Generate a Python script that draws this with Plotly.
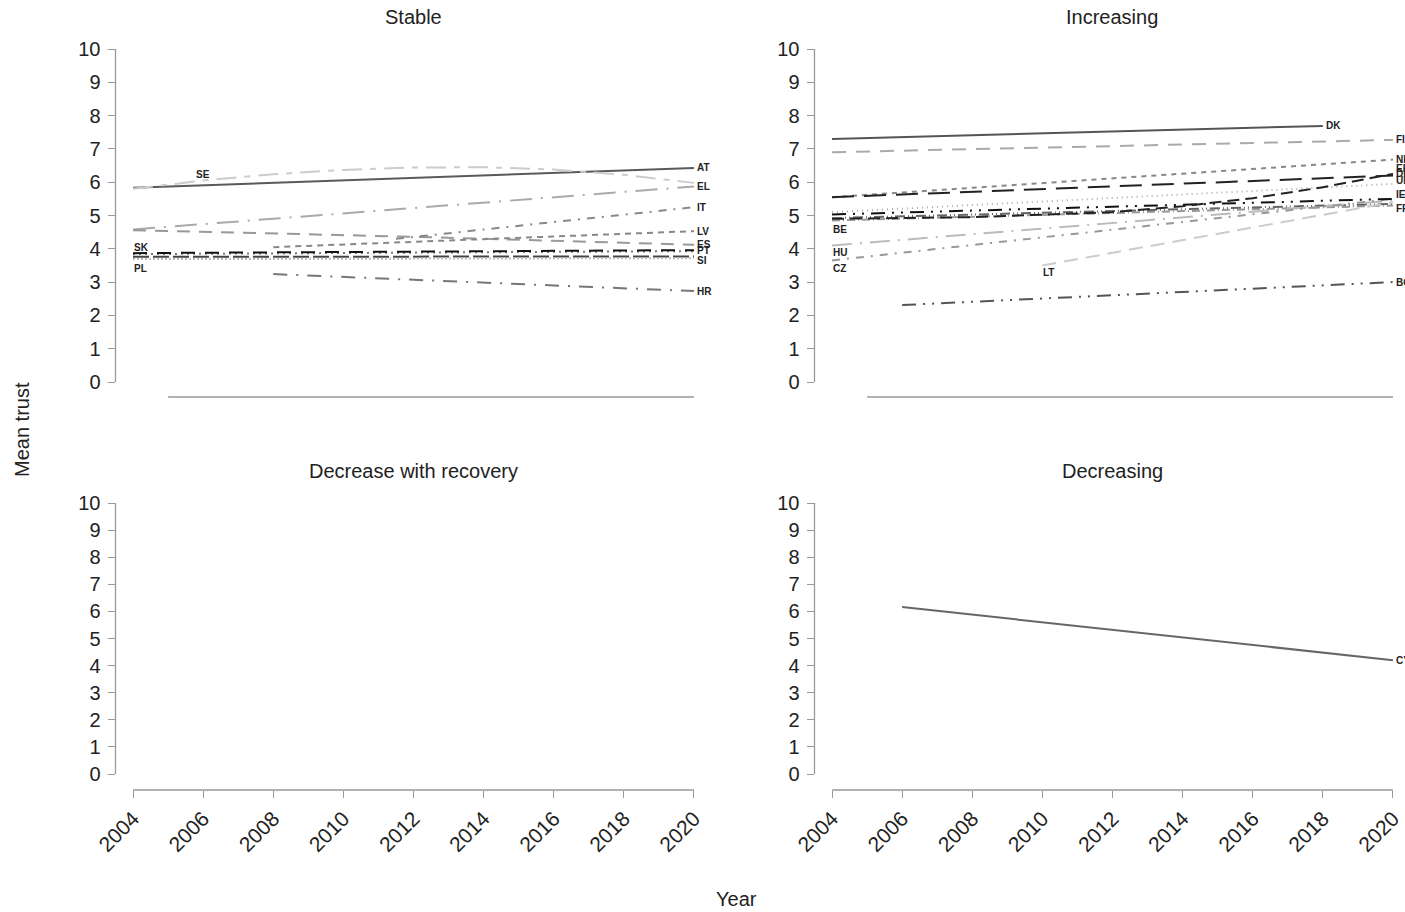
import plotly.graph_objects as go

# ---------------- data ----------------
panel_titles = ["Stable", "Increasing", "Decrease with recovery", "Decreasing"]
x_ticks = [2004, 2006, 2008, 2010, 2012, 2014, 2016, 2018, 2020]
y_ticks = [0, 1, 2, 3, 4, 5, 6, 7, 8, 9, 10]

# Stable
AT_years = [2004, 2020];             AT_vals = [5.83, 6.43]
SE_years = [2004, 2006, 2008, 2010, 2012, 2014, 2016, 2018, 2020]
SE_vals = [5.80, 6.05, 6.24, 6.37, 6.44, 6.45, 6.38, 6.22, 5.98]
EL_years = [2004, 2012, 2020];       EL_vals = [4.58, 5.22, 5.87]
ES_years = [2004, 2012, 2020];       ES_vals = [4.56, 4.36, 4.12]
IT_years = [2011.5, 2020];           IT_vals = [4.30, 5.25]
LV_years = [2008, 2020];             LV_vals = [4.05, 4.53]
SK_years = [2004, 2020];             SK_vals = [3.87, 3.96]
PT_years = [2004, 2020];             PT_vals = [3.84, 3.93]
SI_years = [2004, 2020];             SI_vals = [3.76, 3.77]
PL_years = [2004, 2020];             PL_vals = [3.69, 3.72]
HR_years = [2008, 2020];             HR_vals = [3.24, 2.73]

# Increasing
DK_years = [2004, 2018];             DK_vals = [7.30, 7.69]
FI_years = [2004, 2020];             FI_vals = [6.90, 7.27]
NL_years = [2004, 2020];             NL_vals = [5.55, 6.68]
EE_years = [2004, 2020];             EE_vals = [5.55, 6.20]
DE_years = [2004, 2008, 2012, 2014, 2016, 2018, 2020]
DE_vals = [4.90, 4.95, 5.10, 5.28, 5.52, 5.85, 6.25]
UK_years = [2004, 2020];             UK_vals = [5.10, 5.95]
IE_years = [2004, 2020];             IE_vals = [5.03, 5.50]
FR_years = [2004, 2020];             FR_vals = [4.85, 5.30]
BE_years = [2004, 2020];             BE_vals = [4.92, 5.35]
HU_years = [2004, 2020];             HU_vals = [4.10, 5.45]
CZ_years = [2004, 2020];             CZ_vals = [3.65, 5.50]
LT_years = [2010, 2020];             LT_vals = [3.50, 5.40]
BG_years = [2006, 2020];             BG_vals = [2.31, 3.00]

# Decreasing
CY_years = [2006, 2020];             CY_vals = [6.16, 4.20]

# ---------------- styles ----------------
# (name, panel, years, values, colour, dash, label placement, label yshift px)
series = [
    ("AT", 1, AT_years, AT_vals, "#5a5a5a", "solid", "end", 0),
    ("SE", 1, SE_years, SE_vals, "#cccccc", "20px,8px,6px,8px", ("at", 1), 6),
    ("EL", 1, EL_years, EL_vals, "#aaaaaa", "22px,9px,2px,9px", "end", 0),
    ("ES", 1, ES_years, ES_vals, "#999999", "13px,9px", "end", 0),
    ("IT", 1, IT_years, IT_vals, "#888888", "8px,7px,2px,7px", "end", 0),
    ("LV", 1, LV_years, LV_vals, "#888888", "6px,5px", "end", 0),
    ("SI", 1, SI_years, SI_vals, "#444444", "16px,4px", "end", -4),
    ("PL", 1, PL_years, PL_vals, "#bbbbbb", "2px,2px", "start", -9),
    ("PT", 1, PT_years, PT_vals, "#777777", "2px,4px", "end", 1),
    ("SK", 1, SK_years, SK_vals, "#111111", "14px,10px", "start", 6),
    ("HR", 1, HR_years, HR_vals, "#777777", "14px,9px,2px,9px", "end", 0),
    ("DK", 2, DK_years, DK_vals, "#555555", "solid", "end", 0),
    ("FI", 2, FI_years, FI_vals, "#aaaaaa", "14px,10px", "end", 0),
    ("NL", 2, NL_years, NL_vals, "#888888", "5px,5px", "end", 0),
    ("UK", 2, UK_years, UK_vals, "#aaaaaa", "1px,4px", "end", 3),
    ("FR", 2, FR_years, FR_vals, "#999999", "8px,3px,1px,3px", "end", -3),
    ("BE", 2, BE_years, BE_vals, "#666666", "10px,3px,1px,3px,1px,3px", "start", -11),
    ("HU", 2, HU_years, HU_vals, "#bbbbbb", "20px,8px,2px,8px", "start", -7),
    ("CZ", 2, CZ_years, CZ_vals, "#999999", "8px,7px,2px,7px", "start", -8),
    ("LT", 2, LT_years, LT_vals, "#cccccc", "14px,8px", "start", -7),
    ("IE", 2, IE_years, IE_vals, "#111111", "14px,7px,2px,7px,2px,7px", "end", 4),
    ("DE", 2, DE_years, DE_vals, "#222222", "12px,6px", "end", 0),
    ("EE", 2, EE_years, EE_vals, "#222222", "22px,10px", "end", 7),
    ("BG", 2, BG_years, BG_vals, "#555555", "14px,7px,2px,7px,2px,7px", "end", 0),
    ("CY", 4, CY_years, CY_vals, "#666666", "solid", "end", 0),
]

W, H = 1405, 912
FONT = "Liberation Sans, Arial, sans-serif"

# layout geometry (pixels)
left_x = (115.5, 711.5)
right_x = (814.5, 1405.0)
top_y = (49, 397)     # px from top (10 .. axis line)
bot_y = (503, 790)

def dom_x(px):
    return [px[0] / W, px[1] / W]

def dom_y(px):
    return [1 - px[1] / H, 1 - px[0] / H]

fig = go.Figure()

for name, panel, yrs, vals, col, dash, lab, ysh in series:
    sfx = "" if panel == 1 else str(panel)
    fig.add_trace(go.Scatter(
        x=yrs, y=vals, mode="lines", name=name,
        line=dict(color=col, width=2, dash=dash),
        xaxis="x" + sfx, yaxis="y" + sfx, showlegend=False, hoverinfo="skip",
    ))
    if lab == "end":
        ax, ay, xa, xs = yrs[-1], vals[-1], "left", 1
    elif lab == "start":
        ax, ay, xa, xs = yrs[0], vals[0], "left", -1
    else:
        ax, ay, xa, xs = yrs[lab[1]], vals[lab[1]], "center", 0
    fig.add_annotation(
        x=ax, y=ay, xref="x" + sfx, yref="y" + sfx, text="<b>%s</b>" % name,
        showarrow=False, xanchor=xa, yanchor="middle", xshift=xs, yshift=ysh,
        font=dict(family=FONT, size=10, color="#222222"),
    )

panels = {
    1: (left_x, top_y, True),
    2: (right_x, top_y, True),
    3: (left_x, bot_y, False),
    4: (right_x, bot_y, False),
}

layout = dict(
    template="none",
    width=W, height=H, margin=dict(l=0, r=0, t=0, b=0, pad=0, autoexpand=False),
    paper_bgcolor="white", plot_bgcolor="white",
    font=dict(family=FONT, color="#222222"),
)

shapes = []
for p, (xp, yp, top) in panels.items():
    sfx = "" if p == 1 else str(p)
    xr_end = 2003.5 + (xp[1] - xp[0]) / 35.06
    ymin = -15 / 33.3 if top else -16 / 27.1
    layout["xaxis" + sfx] = dict(
        domain=dom_x(xp), range=[2003.5, xr_end], anchor="y" + sfx,
        automargin=False,
        showgrid=False, zeroline=False, showline=False,
        tickmode="array", tickvals=x_ticks if not top else [],
        ticktext=[str(v) for v in x_ticks] if not top else [],
        ticks="" if top else "outside", ticklen=7, tickcolor="#999999", tickwidth=1.3,
        tickangle=-45, tickfont=dict(family=FONT, size=21, color="#222222"),
        showticklabels=not top,
    )
    layout["yaxis" + sfx] = dict(
        domain=dom_y(yp), range=[ymin, 10.0], anchor="x" + sfx,
        automargin=False,
        showgrid=False, zeroline=False, showline=False,
        tickmode="array", tickvals=y_ticks,
        ticks="outside", ticklen=7, tickcolor="#999999", tickwidth=1.3,
        tickfont=dict(family=FONT, size=20, color="#222222"),
        ticklabelstandoff=3,
    )
    # range-frame axis lines
    shapes.append(dict(type="line", xref="x" + sfx + " domain", yref="y" + sfx,
                       x0=0, x1=0, y0=0, y1=10,
                       line=dict(color="#999999", width=1.3)))
    shapes.append(dict(type="line", xref="x" + sfx, yref="y" + sfx + " domain",
                       x0=2005 if top else 2004, x1=2020, y0=0, y1=0,
                       line=dict(color="#999999", width=1.3)))

layout["shapes"] = shapes
fig.update_layout(**layout)

# panel titles
title_pos = [(413, 17), (1112, 17), (413, 471), (1112, 471)]
for t, (px, py) in zip(panel_titles, title_pos):
    fig.add_annotation(x=px / W, y=1 - py / H, xref="paper", yref="paper", text=t,
                       showarrow=False, xanchor="center", yanchor="middle",
                       font=dict(family=FONT, size=20, color="#222222"))

fig.add_annotation(x=22 / W, y=1 - 430 / H, xref="paper", yref="paper", text="Mean trust",
                   showarrow=False, textangle=-90, xanchor="center", yanchor="middle",
                   font=dict(family=FONT, size=20, color="#222222"))
fig.add_annotation(x=737 / W, y=1 - 899 / H, xref="paper", yref="paper", text="Year",
                   showarrow=False, xanchor="center", yanchor="middle",
                   font=dict(family=FONT, size=20, color="#222222"))

fig.write_html("out.html")
